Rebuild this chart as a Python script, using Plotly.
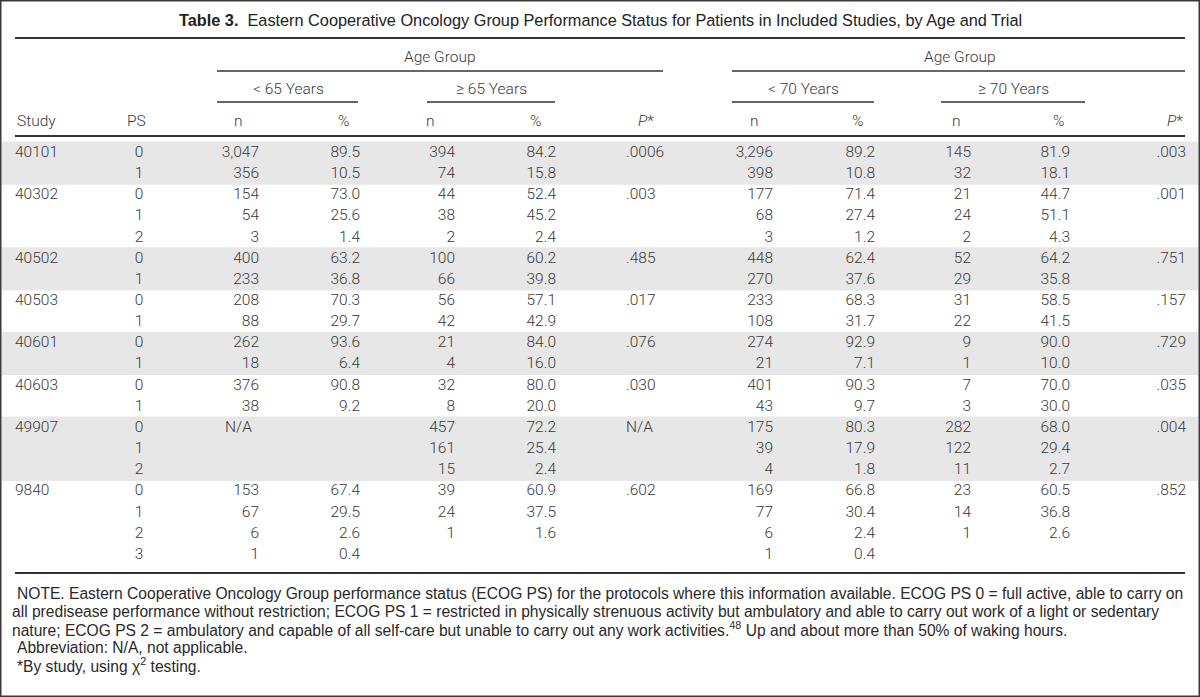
import plotly.graph_objects as go

# ---------------- data ----------------
studies = ["40101", "40302", "40502", "40503", "40601", "40603", "49907", "9840"]
ps_levels = [[0, 1], [0, 1, 2], [0, 1], [0, 1], [0, 1], [0, 1], [0, 1, 2], [0, 1, 2, 3]]

n_lt65 = [3047, 356, 154, 54, 3, 400, 233, 208, 88, 262, 18, 376, 38, "N/A", None, None, 153, 67, 6, 1]
pct_lt65 = [89.5, 10.5, 73.0, 25.6, 1.4, 63.2, 36.8, 70.3, 29.7, 93.6, 6.4, 90.8, 9.2, None, None, None, 67.4, 29.5, 2.6, 0.4]
n_ge65 = [394, 74, 44, 38, 2, 100, 66, 56, 42, 21, 4, 32, 8, 457, 161, 15, 39, 24, 1, None]
pct_ge65 = [84.2, 15.8, 52.4, 45.2, 2.4, 60.2, 39.8, 57.1, 42.9, 84.0, 16.0, 80.0, 20.0, 72.2, 25.4, 2.4, 60.9, 37.5, 1.6, None]
p_age65 = [".0006", ".003", ".485", ".017", ".076", ".030", "N/A", ".602"]

n_lt70 = [3296, 398, 177, 68, 3, 448, 270, 233, 108, 274, 21, 401, 43, 175, 39, 4, 169, 77, 6, 1]
pct_lt70 = [89.2, 10.8, 71.4, 27.4, 1.2, 62.4, 37.6, 68.3, 31.7, 92.9, 7.1, 90.3, 9.7, 80.3, 17.9, 1.8, 66.8, 30.4, 2.4, 0.4]
n_ge70 = [145, 32, 21, 24, 2, 52, 29, 31, 22, 9, 1, 7, 3, 282, 122, 11, 23, 14, 1, None]
pct_ge70 = [81.9, 18.1, 44.7, 51.1, 4.3, 64.2, 35.8, 58.5, 41.5, 90.0, 10.0, 70.0, 30.0, 68.0, 29.4, 2.7, 60.5, 36.8, 2.6, None]
p_age70 = [".003", ".001", ".751", ".157", ".729", ".035", ".004", ".852"]

title_bold = "Table 3."
title_text = "Eastern Cooperative Oncology Group Performance Status for Patients in Included Studies, by Age and Trial"
note_lines = [
    "NOTE. Eastern Cooperative Oncology Group performance status (ECOG PS) for the protocols where this information available. ECOG PS 0 = full active, able to carry on",
    "all predisease performance without restriction; ECOG PS 1 = restricted in physically strenuous activity but ambulatory and able to carry out work of a light or sedentary",
    "nature; ECOG PS 2 = ambulatory and capable of all self-care but unable to carry out any work activities.<sup>48</sup> Up and about more than 50% of waking hours.",
    "Abbreviation: N/A, not applicable.",
    "*By study, using \u03c7<sup>2</sup> testing.",
]

# ---------------- layout constants ----------------
W, H = 1200, 697
ROW0, ROWH = 153, 21.16
FONT = "Roboto"
SANS = "Liberation Sans, Arial, sans-serif"
TXT = "#3a3a3a"
FS = 15.5

# expand rows
row_study, row_ps, row_p65, row_p70, band_groups = [], [], [], [], []
i = 0
for k, (s, levels) in enumerate(zip(studies, ps_levels)):
    band_groups.append((i, i + len(levels) - 1, k % 2 == 0))
    for j, p in enumerate(levels):
        row_study.append(s if j == 0 else "")
        row_ps.append(str(p))
        row_p65.append(p_age65[k] if j == 0 else "")
        row_p70.append(p_age70[k] if j == 0 else "")
        i += 1
nrows = i
row_y = [ROW0 + r * ROWH for r in range(nrows)]


def fmt_n(v):
    if v is None:
        return ""
    if isinstance(v, str):
        return v
    return f"{v:,}"


def fmt_p(v):
    return "" if v is None else f"{v:.1f}"


fig = go.Figure()

shapes = []
for a, b, shaded in band_groups:
    if shaded:
        shapes.append(dict(type="rect", xref="x", yref="y", x0=2, x1=W - 2,
                           y0=row_y[a] - 11.5, y1=row_y[b] + 10.5,
                           fillcolor="#e7e7e7", line=dict(width=0), layer="below"))


def hline(y, x0, x1, w=2):
    shapes.append(dict(type="line", xref="x", yref="y", x0=x0, x1=x1, y0=y, y1=y,
                       line=dict(color="#333333", width=w)))


hline(38, 15, 1185, 2)
hline(71, 217, 663, 1.6)
hline(71, 732, 1185, 1.6)
for x0, x1 in [(217, 358), (427, 555), (732, 874), (941, 1085)]:
    hline(102, x0, x1, 1.6)
hline(136, 15, 1185, 2)
hline(573, 15, 1185, 2)
shapes.append(dict(type="rect", xref="paper", yref="paper", x0=0, x1=1, y0=0, y1=1,
                   line=dict(color="#3a3a3a", width=3), fillcolor="rgba(0,0,0,0)"))


def col(x, texts, pos):
    fig.add_trace(go.Scatter(x=[x] * len(texts), y=row_y, text=texts, mode="text",
                             textposition=pos, hoverinfo="skip", showlegend=False,
                             textfont=dict(family=FONT, size=FS, color=TXT, weight=300)))


col(15, row_study, "middle right")
col(139, row_ps, "middle center")
col(259, [fmt_n(v) if v != "N/A" else "" for v in n_lt65], "middle left")
col(225, ["N/A" if v == "N/A" else "" for v in n_lt65], "middle right")
col(360, [fmt_p(v) for v in pct_lt65], "middle left")
col(455, [fmt_n(v) for v in n_ge65], "middle left")
col(556, [fmt_p(v) for v in pct_ge65], "middle left")
col(626, row_p65, "middle right")
col(773, [fmt_n(v) for v in n_lt70], "middle left")
col(875, [fmt_p(v) for v in pct_lt70], "middle left")
col(971, [fmt_n(v) for v in n_ge70], "middle left")
col(1070, [fmt_p(v) for v in pct_ge70], "middle left")
col(1186, row_p70, "middle left")

ann = []


def label(x, y, t, xanchor="center", fam=FONT, size=FS, color=TXT, weight=300):
    ann.append(dict(x=x, y=y, xref="x", yref="y", text=t, showarrow=False,
                    xanchor=xanchor, yanchor="middle",
                    font=dict(family=fam, size=size, color=color, weight=weight)))


label(600, 20, f"<b>{title_bold}</b>  {title_text}", xanchor="center", fam=SANS, size=16.3,
      color="#222222", weight=400)
label(440, 57, "Age Group")
label(960, 57, "Age Group")
label(288, 89, "< 65 Years")
label(491, 89, "\u2265 65 Years")
label(803, 89, "< 70 Years")
label(1013, 89, "\u2265 70 Years")
label(15, 121, "Study", xanchor="left")
label(148, 121, "PS", xanchor="right")
label(238, 121, "n")
label(343, 121, "%")
label(430, 121, "n")
label(535, 121, "%")
label(656, 121, "<i>P</i>*", xanchor="right")
label(754, 121, "n")
label(857, 121, "%")
label(956, 121, "n")
label(1058, 121, "%")
label(1185, 121, "<i>P</i>*", xanchor="right")

for k, line in enumerate(note_lines):
    label(10 if k in (1, 2) else 15, 593 + 18 * k, line, xanchor="left", fam=SANS, size=15.6,
          color="#2a2a2a", weight=400)

fig.update_layout(
    width=W, height=H, margin=dict(l=0, r=0, t=0, b=0),
    paper_bgcolor="white", plot_bgcolor="white",
    xaxis=dict(range=[0, W], visible=False, fixedrange=True),
    yaxis=dict(range=[H, 0], visible=False, fixedrange=True),
    shapes=shapes, annotations=ann,
)

fig.write_html("out.html", config={"displayModeBar": False},
               post_script="document.body.style.margin='0';document.body.style.overflow='hidden';")
